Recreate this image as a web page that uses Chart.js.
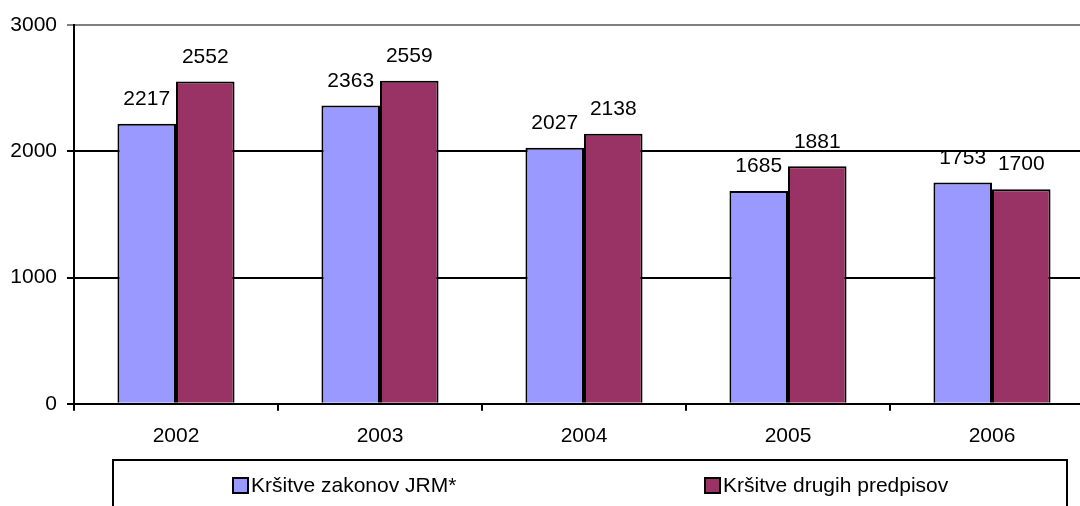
<!DOCTYPE html>
<html>
<head>
<meta charset="utf-8">
<script src="https://cdn.jsdelivr.net/npm/chart.js@4/dist/chart.umd.min.js"></script>
<style>
html,body{margin:0;padding:0;background:#fff;overflow:hidden;}
#wrap{width:1100px;height:506px;}
</style>
</head>
<body>
<div id="wrap"><canvas id="ch"></canvas></div>
<script>
const years = ['2002', '2003', '2004', '2005', '2006'];
const jrm = [2217, 2363, 2027, 1685, 1753];
const drugih = [2552, 2559, 2138, 1881, 1700];
const seriesNames = ['Kršitve zakonov JRM*', 'Kršitve drugih predpisov'];
const yTicks = [0, 1000, 2000, 3000];

const FONT = 'Liberation Sans, Arial, sans-serif';

// value labels above each bar
const valueLabels = {
  id: 'valueLabels',
  afterDatasetsDraw(chart) {
    const ctx = chart.ctx;
    ctx.save();
    ctx.font = '21px ' + FONT;
    ctx.fillStyle = '#000';
    ctx.textAlign = 'center';
    ctx.textBaseline = 'bottom';
    chart.data.datasets.forEach((ds, i) => {
      chart.getDatasetMeta(i).data.forEach((bar, j) => {
        ctx.fillText(String(ds.data[j]), bar.x, bar.y - 14);
      });
    });
    ctx.restore();
  }
};

// boxed legend under the axis
const boxLegend = {
  id: 'boxLegend',
  afterDraw(chart) {
    const ctx = chart.ctx;
    ctx.save();
    ctx.strokeStyle = '#000';
    ctx.lineWidth = 2;
    ctx.strokeRect(113, 460, 954, 60);
    const xs = [233, 705];
    ctx.font = '21px ' + FONT;
    ctx.textBaseline = 'middle';
    ctx.textAlign = 'left';
    chart.data.datasets.forEach((ds, i) => {
      ctx.fillStyle = ds.backgroundColor;
      ctx.fillRect(xs[i], 478, 15, 15);
      ctx.lineWidth = 2;
      ctx.strokeRect(xs[i], 478, 15, 15);
      ctx.fillStyle = '#000';
      ctx.fillText(ds.label, xs[i] + 18, 486);
    });
    ctx.restore();
  }
};

new Chart(document.getElementById('ch'), {
  type: 'bar',
  data: {
    labels: years,
    datasets: [
      {label: seriesNames[0], data: jrm, backgroundColor: '#9999FF', borderColor: '#000', borderWidth: 2, borderSkipped: 'bottom'},
      {label: seriesNames[1], data: drugih, backgroundColor: '#993366', borderColor: '#000', borderWidth: 2, borderSkipped: 'bottom'}
    ]
  },
  options: {
    responsive: true,
    maintainAspectRatio: false,
    animation: false,
    layout: {padding: {top: 25, right: 6, bottom: 44, left: 0}},
    plugins: {legend: {display: false}, tooltip: {enabled: false}},
    datasets: {bar: {categoryPercentage: 0.574, barPercentage: 1}},
    scales: {
      x: {
        grid: {offset: true, drawOnChartArea: false, color: '#000', lineWidth: 2, tickLength: 7},
        border: {color: '#000', width: 2},
        ticks: {color: '#000', font: {size: 21, family: FONT}, padding: 13}
      },
      y: {
        min: 0, max: 3000,
        afterFit(s) { s.width = 74; },
        afterBuildTicks(s) { s.ticks = yTicks.map(v => ({value: v})); },
        grid: {
          color: c => c.tick && c.tick.value === 3000 ? '#808080' : '#000',
          lineWidth: 2, tickLength: 7
        },
        border: {color: '#000', width: 2},
        ticks: {color: '#000', font: {size: 21, family: FONT}, padding: 10, callback: v => String(v)}
      }
    }
  },
  plugins: [valueLabels, boxLegend]
});
</script>
</body>
</html>
